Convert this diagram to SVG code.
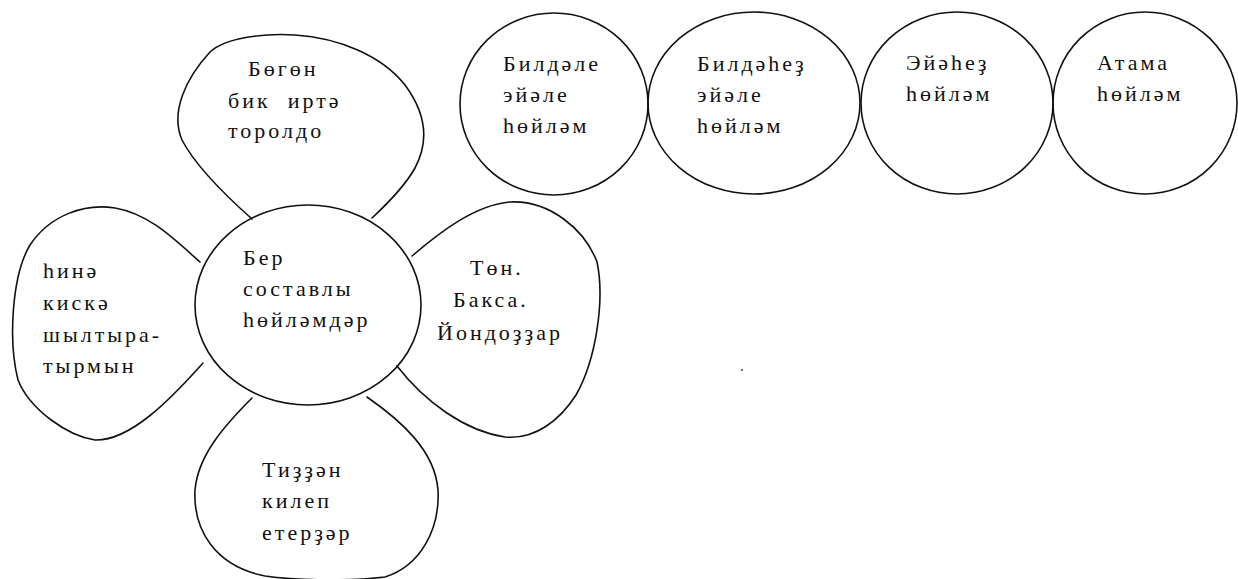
<svg xmlns="http://www.w3.org/2000/svg" width="1238" height="579" viewBox="0 0 1238 579">
<style>
.shape{fill:none;stroke:#111;stroke-width:1.6;stroke-linecap:round;stroke-linejoin:round}
.t{font-family:"Liberation Serif","DejaVu Serif",serif;font-size:22px;letter-spacing:3px;fill:#111;white-space:pre}
</style>
<rect width="1238" height="579" fill="#fff"/>
<g id="connectors"></g>
<g id="center">
<ellipse class="shape" cx="308" cy="305" rx="113" ry="100"/>
<text class="t" x="243" y="265">Бер</text>
<text class="t" x="243" y="296">составлы</text>
<text class="t" x="243" y="327">һөйләмдәр</text>
</g>
<g id="petal-top">
<path class="shape" d="M252,219 C225,195 195,165 182,140 C170,112 186,78 210,52 C225,38 262,33 295,35 C340,38 382,56 405,85 C425,112 430,140 415,168 C405,186 386,205 372,218"/>
<text class="t" x="248" y="76">Бөгөн</text>
<text class="t" x="228" y="108" xml:space="preserve">бик  иртә</text>
<text class="t" x="228" y="138">торолдо</text>
</g>
<g id="petal-left">
<path class="shape" d="M200,262 C175,240 150,214 115,208 C85,203 50,215 30,245 C12,275 8,340 18,380 C30,410 68,436 95,440 C130,441 170,400 203,363"/>
<text class="t" x="43" y="278">һинә</text>
<text class="t" x="43" y="310">кискә</text>
<text class="t" x="43" y="342">шылтыра-</text>
<text class="t" x="43" y="373">тырмын</text>
</g>
<g id="petal-right">
<path class="shape" d="M412,256 C440,232 475,205 510,202 C550,200 585,230 597,262 C605,300 596,360 576,395 C560,420 535,440 505,437 C465,431 425,402 397,366"/>
<text class="t" x="470" y="275">Төн.</text>
<text class="t" x="453" y="307">Бакса.</text>
<text class="t" x="437" y="340">Йондоҙҙар</text>
</g>
<g id="petal-bottom">
<path class="shape" d="M252,398 C225,425 198,455 195,490 C193,530 215,566 265,576 C300,581 350,581 385,577 C420,566 440,530 438,490 C435,450 400,420 367,397"/>
<text class="t" x="262" y="477">Тиҙҙән</text>
<text class="t" x="262" y="508">килеп</text>
<text class="t" x="262" y="540">етерҙәр</text>
</g>
<g id="circle-1">
<ellipse class="shape" cx="554" cy="104" rx="94" ry="91"/>
<text class="t" x="503" y="71">Билдәле</text>
<text class="t" x="503" y="102">эйәле</text>
<text class="t" x="503" y="133">һөйләм</text>
</g>
<g id="circle-2">
<ellipse class="shape" cx="754" cy="103" rx="106" ry="91"/>
<text class="t" x="697" y="71">Билдәһеҙ</text>
<text class="t" x="697" y="102">эйәле</text>
<text class="t" x="697" y="133">һөйләм</text>
</g>
<g id="circle-3">
<ellipse class="shape" cx="957" cy="103" rx="96" ry="91"/>
<text class="t" x="906" y="70">Эйәһеҙ</text>
<text class="t" x="906" y="101">һөйләм</text>
</g>
<g id="circle-4">
<ellipse class="shape" cx="1145" cy="103" rx="92" ry="91"/>
<text class="t" x="1097" y="70">Атама</text>
<text class="t" x="1097" y="101">һөйләм</text>
</g>
<circle cx="742" cy="370" r="1" fill="#333"/>
</svg>
